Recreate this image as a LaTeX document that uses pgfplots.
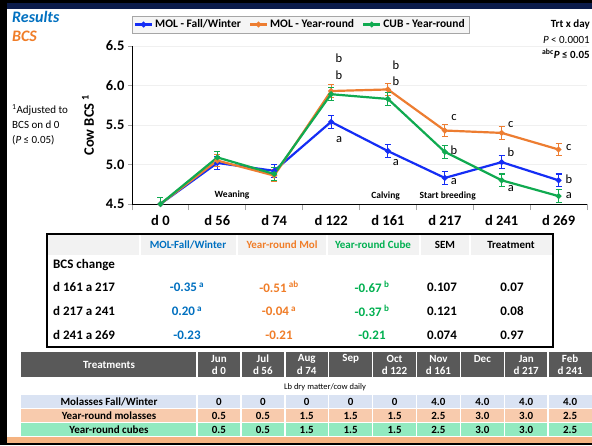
\documentclass[border=0pt]{standalone}
\usepackage{fontspec}
\setmainfont{Carlito}
\usepackage{pgfplots}
\pgfplotsset{compat=1.18}
\definecolor{cblue}{RGB}{20,45,245}
\definecolor{corange}{RGB}{237,125,49}
\definecolor{cgreen}{RGB}{16,170,80}
\definecolor{tblue}{RGB}{0,112,192}
\definecolor{torange}{RGB}{240,125,40}
\definecolor{tgreen}{RGB}{0,176,80}
\definecolor{navy}{RGB}{12,28,75}
\definecolor{hdrgray}{RGB}{89,89,89}
\definecolor{rowblue}{RGB}{218,227,243}
\definecolor{roworange}{RGB}{248,203,173}
\definecolor{rowgreen}{RGB}{146,234,192}
\definecolor{peach}{RGB}{245,180,130}
\newcommand{\fs}[1]{\fontsize{#1}{#1}\selectfont}
\begin{document}
\begin{tikzpicture}[x=1pt,y=-1pt]
\path[use as bounding box] (0,0) rectangle (592,445);
\fill[white] (0,0) rectangle (592,445);
% frame
\fill[navy] (0,0) rectangle (592,9);
\fill[black] (0,0) rectangle (592,3);
\fill[black] (0,0) rectangle (7,445);
\fill[peach] (7,437) rectangle (592,443);
\fill[black] (0,443) rectangle (592,445);
% titles
\node[anchor=west,inner sep=0,font=\bfseries\itshape\fs{16},text=tblue] at (12,17) {Results};
\node[anchor=west,inner sep=0,font=\bfseries\itshape\fs{16},text=torange] at (12,36) {BCS};
\node[anchor=east,inner sep=0,font=\bfseries\fs{11}] at (590,25) {Trt x day};
\node[anchor=east,inner sep=0,font=\fs{11}] at (590,40) {\textit{P} < 0.0001};
\node[anchor=east,inner sep=0,font=\bfseries\fs{11}] at (590,54) {\textsuperscript{abc}\textit{P} ≤ 0.05};
\node[anchor=west,inner sep=0,font=\fs{11}] at (12,110) {\textsuperscript{1}Adjusted to};
\node[anchor=west,inner sep=0,font=\fs{11}] at (12,125) {BCS on d 0};
\node[anchor=west,inner sep=0,font=\fs{11}] at (12,140) {(\textit{P} ≤ 0.05)};
\node[rotate=90,inner sep=0,font=\bfseries\fs{14.5}] at (88,125) {Cow BCS \textsuperscript{1}};
% chart
\begin{axis}[at={(132pt,-204pt)}, anchor=south west, scale only axis,
  width=455pt, height=158pt,
  xmin=-0.5, xmax=7.5, ymin=4.5, ymax=6.5,
  axis x line*=bottom, axis y line*=left,
  axis line style={black, line width=0.9pt},
  xtick={0,...,7},
  xticklabels={d 0,d 56,d 74,d 122,d 161,d 217,d 241,d 269},
  minor xtick={-0.5,0.5,...,7.5},
  major x tick style={draw=none},
  ytick={4.5,5,5.5,6,6.5},
  yticklabels={4.5,5.0,5.5,6.0,6.5},
  tick align=outside, major tick length=4pt, minor tick length=6pt,
  tick style={gray!70, line width=0.8pt},
  ymajorgrids, grid style={gray!12, line width=0.6pt},
  ticklabel style={font=\bfseries\fs{14.5}},
  xticklabel style={yshift=-4pt},
  legend columns=3,
  legend style={at={(0.37,1.136)}, anchor=center, fill=gray!8, draw=gray!70,
    font=\bfseries\fs{11.5}, inner sep=2pt,
    /tikz/every even column/.append style={column sep=6pt}},
  every axis plot/.append style={line width=2.2pt, mark=*, mark size=1.6pt},
  error bars/y dir=both, error bars/y explicit,
  error bars/error bar style={line width=1.1pt},
  error bars/error mark options={rotate=90, mark size=3pt, line width=1.1pt},
]
\addplot[cblue, mark options={fill=cblue}] coordinates {
 (0,4.50) +- (0,0.08) (1,5.02) +- (0,0.08) (2,4.92) +- (0,0.08) (3,5.54) +- (0,0.085)
 (4,5.17) +- (0,0.08) (5,4.83) +- (0,0.08) (6,5.03) +- (0,0.08) (7,4.80) +- (0,0.08)};
\addplot[corange, mark options={fill=corange}] coordinates {
 (0,4.50) +- (0,0.08) (1,5.05) +- (0,0.08) (2,4.86) +- (0,0.08) (3,5.93) +- (0,0.08)
 (4,5.95) +- (0,0.08) (5,5.43) +- (0,0.08) (6,5.40) +- (0,0.08) (7,5.19) +- (0,0.08)};
\addplot[cgreen, mark options={fill=cgreen}] coordinates {
 (0,4.50) +- (0,0.08) (1,5.09) +- (0,0.08) (2,4.88) +- (0,0.08) (3,5.89) +- (0,0.08)
 (4,5.83) +- (0,0.08) (5,5.16) +- (0,0.08) (6,4.80) +- (0,0.08) (7,4.60) +- (0,0.08)};
\legend{MOL - Fall/Winter, MOL - Year-round, CUB - Year-round}
\begin{scope}[every node/.style={font=\fs{12.5}, inner sep=0}]
\node at (axis cs:3.14,6.34) {b};
\node at (axis cs:3.14,6.13) {b};
\node at (axis cs:3.14,5.32) {a};
\node at (axis cs:4.14,6.26) {b};
\node at (axis cs:4.14,6.06) {b};
\node at (axis cs:4.14,5.03) {a};
\node at (axis cs:5.16,5.59) {c};
\node at (axis cs:5.16,5.18) {b};
\node at (axis cs:5.16,4.79) {a};
\node at (axis cs:6.16,5.51) {c};
\node at (axis cs:6.16,5.15) {b};
\node at (axis cs:6.16,4.69) {a};
\node at (axis cs:7.18,5.21) {c};
\node at (axis cs:7.18,4.82) {b};
\node at (axis cs:7.18,4.61) {a};
\end{scope}
\begin{scope}[every node/.style={font=\bfseries\fs{9.5}, inner sep=0}]
\node at (axis cs:1.26,4.61) {Weaning};
\node at (axis cs:3.96,4.60) {Calving};
\node at (axis cs:5.05,4.60) {Start breeding};
\end{scope}
\end{axis}
% middle table
\fill[gray!10] (47,234) rectangle (553,255);
\foreach \xx in {140,237,327,420,470} \draw[white, line width=1.5pt] (\xx,234) -- (\xx,255);
\draw[black, line width=1.2pt] (47,234) rectangle (553,347);
\begin{scope}[every node/.style={inner sep=0, font=\bfseries\fs{11}}]
\node[text=tblue] at (188,245) {MOL-Fall/Winter};
\node[text=torange] at (282,245) {Year-round Mol};
\node[text=tgreen] at (373,245) {Year-round Cube};
\node at (445,245) {SEM};
\node at (511,245) {Treatment};
\end{scope}
\begin{scope}[every node/.style={inner sep=0, font=\bfseries\fs{13}}]
\node[anchor=west] at (53,265) {BCS change};
\node[anchor=west] at (53,287) {d 161 a 217};
\node[anchor=west] at (53,311) {d 217 a 241};
\node[anchor=west] at (53,335) {d 241 a 269};
\node[text=tblue] at (187,287) {-0.35\,\textsuperscript{a}};
\node[text=torange] at (279,287) {-0.51\,\textsuperscript{ab}};
\node[text=tgreen] at (372,287) {-0.67\,\textsuperscript{b}};
\node at (442,287) {0.107};
\node at (512,287) {0.07};
\node[text=tblue] at (187,311) {0.20\,\textsuperscript{a}};
\node[text=torange] at (279,311) {-0.04\,\textsuperscript{a}};
\node[text=tgreen] at (372,311) {-0.37\,\textsuperscript{b}};
\node at (442,311) {0.121};
\node at (512,311) {0.08};
\node[text=tblue] at (187,335) {-0.23};
\node[text=torange] at (279,335) {-0.21};
\node[text=tgreen] at (372,335) {-0.21};
\node at (442,335) {0.074};
\node at (512,335) {0.97};
\end{scope}
% bottom table
\fill[hdrgray] (21,352) rectangle (592,377);
\fill[rowblue] (21,395) rectangle (592,408);
\fill[roworange] (21,409) rectangle (592,422);
\fill[rowgreen] (21,423) rectangle (592,436);
\foreach \k in {0,...,8} {
  \draw[white, line width=1.5pt] ({197+43.9*\k},352) -- ({197+43.9*\k},377);
  \draw[white, line width=1.5pt] ({197+43.9*\k},395) -- ({197+43.9*\k},436);
}
\begin{scope}[every node/.style={inner sep=0, font=\bfseries\fs{11}, text=white}]
\node at (109,365) {Treatments};
\foreach \m/\d [count=\i from 0] in {Jun/d 0,Jul/d 56,Aug/d 74,Sep/,Oct/d 122,Nov/d 161,Dec/,Jan/d 217,Feb/d 241} {
  \node at ({218.95+43.9*\i},359) {\m};
  \node at ({218.95+43.9*\i},371) {\d};
}
\end{scope}
\node[inner sep=0, font=\fs{8.5}] at (325,387) {Lb dry matter/cow daily};
\begin{scope}[every node/.style={inner sep=0, font=\bfseries\fs{11}}]
\node at (109,401.5) {Molasses Fall/Winter};
\node at (109,415.5) {Year-round molasses};
\node at (109,429.5) {Year-round cubes};
\foreach \v [count=\i from 0] in {0,0,0,0,0,4.0,4.0,4.0,4.0}
  \node at ({218.95+43.9*\i},401.5) {\v};
\foreach \v [count=\i from 0] in {0.5,0.5,1.5,1.5,1.5,2.5,3.0,3.0,2.5}
  \node at ({218.95+43.9*\i},415.5) {\v};
\foreach \v [count=\i from 0] in {0.5,0.5,1.5,1.5,1.5,2.5,3.0,3.0,2.5}
  \node at ({218.95+43.9*\i},429.5) {\v};
\end{scope}
\end{tikzpicture}
\end{document}
